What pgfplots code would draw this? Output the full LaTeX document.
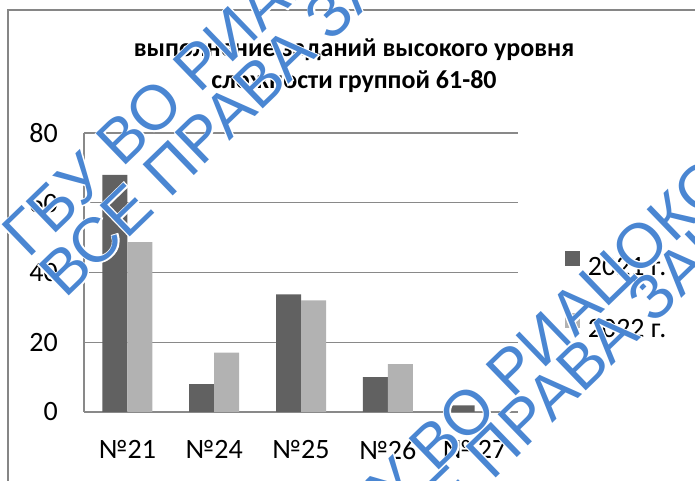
\documentclass[border=0pt]{standalone}
\usepackage{fontspec}
\setmainfont{Carlito}
\newfontfamily\wmfont{Liberation Sans}
\newfontfamily\wmhalo[FakeBold=4]{Liberation Sans}
\usepackage{pgfplots}
\pgfplotsset{compat=1.18}

\definecolor{bar21}{RGB}{97,97,97}
\definecolor{bar22}{RGB}{178,178,178}
\definecolor{gridgray}{RGB}{137,137,137}
\definecolor{framegray}{RGB}{134,134,134}
\definecolor{wmblue}{RGB}{74,134,210}

% one rotated stamp line: #1 = start of its baseline, #2 = text
\newcommand{\stampline}[2]{%
  \foreach \f/\c in {\wmhalo/white,\wmfont/wmblue}{%
    \node[rotate=44, anchor=base west, inner sep=0pt, text=\c,
          font=\f\fontsize{63bp}{70bp}\selectfont] at (#1) {#2};
  }%
}

\begin{document}
\begin{tikzpicture}[x=1bp,y=1bp]
\useasboundingbox (0,0) rectangle (695,481);

\begin{scope}
  \clip (0,0) rectangle (695,481);
  \draw[framegray, line width=2bp] (8,-20) -- (8,471) -- (720,471);
\end{scope}

\node[font=\fontsize{26bp}{30bp}\selectfont\bfseries, anchor=base] at (354,424)
  {выполнение заданий высокого уровня};
\node[font=\fontsize{26bp}{30bp}\selectfont\bfseries, anchor=base] at (354,392)
  {сложности группой 61-80};

\begin{axis}[
  at={(84bp,69bp)}, anchor=south west,
  scale only axis, width=434bp, height=279bp,
  ybar=0pt, bar width=25bp,
  ymin=0, ymax=80, ytick={0,20,40,60,80},
  xmin=-0.5, xmax=4.5, xtick=data,
  xticklabels={№21,№24,№25,№26,№ 27},
  axis x line*=bottom, axis y line*=left,
  axis line style={gridgray, line width=1.2bp},
  ymajorgrids, major grid style={gridgray, line width=1.2bp},
  major tick length=0pt,
  /pgf/number format/assume math mode=true,
  tick label style={font=\fontsize{28bp}{34bp}\selectfont},
  yticklabel style={inner sep=0pt, anchor=east, xshift=-26bp},
  xticklabel style={inner sep=0pt, anchor=north, yshift=-28bp},
  legend style={at={(1.108,0.419)}, anchor=west, draw=none, fill=none,
    inner sep=0pt, outer sep=0pt, font=\fontsize{28bp}{34bp}\selectfont,
    row sep=36bp, column sep=8bp, nodes={inner sep=0pt}},
  legend cell align=left,
  sq/.style={legend image code/.code={\fill[##1] (0bp,1.5bp) rectangle (15bp,16.5bp);}},
]
\addplot[fill=bar21, draw=none, sq] coordinates {(0,68) (1,8) (2,33.7) (3,10) (4,1.9)};
\addplot[fill=bar22, draw=none, sq] coordinates {(0,48.7) (1,17) (2,32) (3,13.7) (4,0)};
\legend{2021 г., 2022 г.}
\end{axis}

\begin{scope}
  \clip (0,0) rectangle (695,481);
  \stampline{28,221}{ГБУ ВО РИАЦОКО}
  \stampline{65,181}{ВСЕ ПРАВА ЗАЩИЩЕНЫ}
  \stampline{341,-84}{ГБУ ВО РИАЦОКО}
  \stampline{388,-101}{ВСЕ ПРАВА ЗАЩИЩЕНЫ}
\end{scope}
\end{tikzpicture}
\end{document}
